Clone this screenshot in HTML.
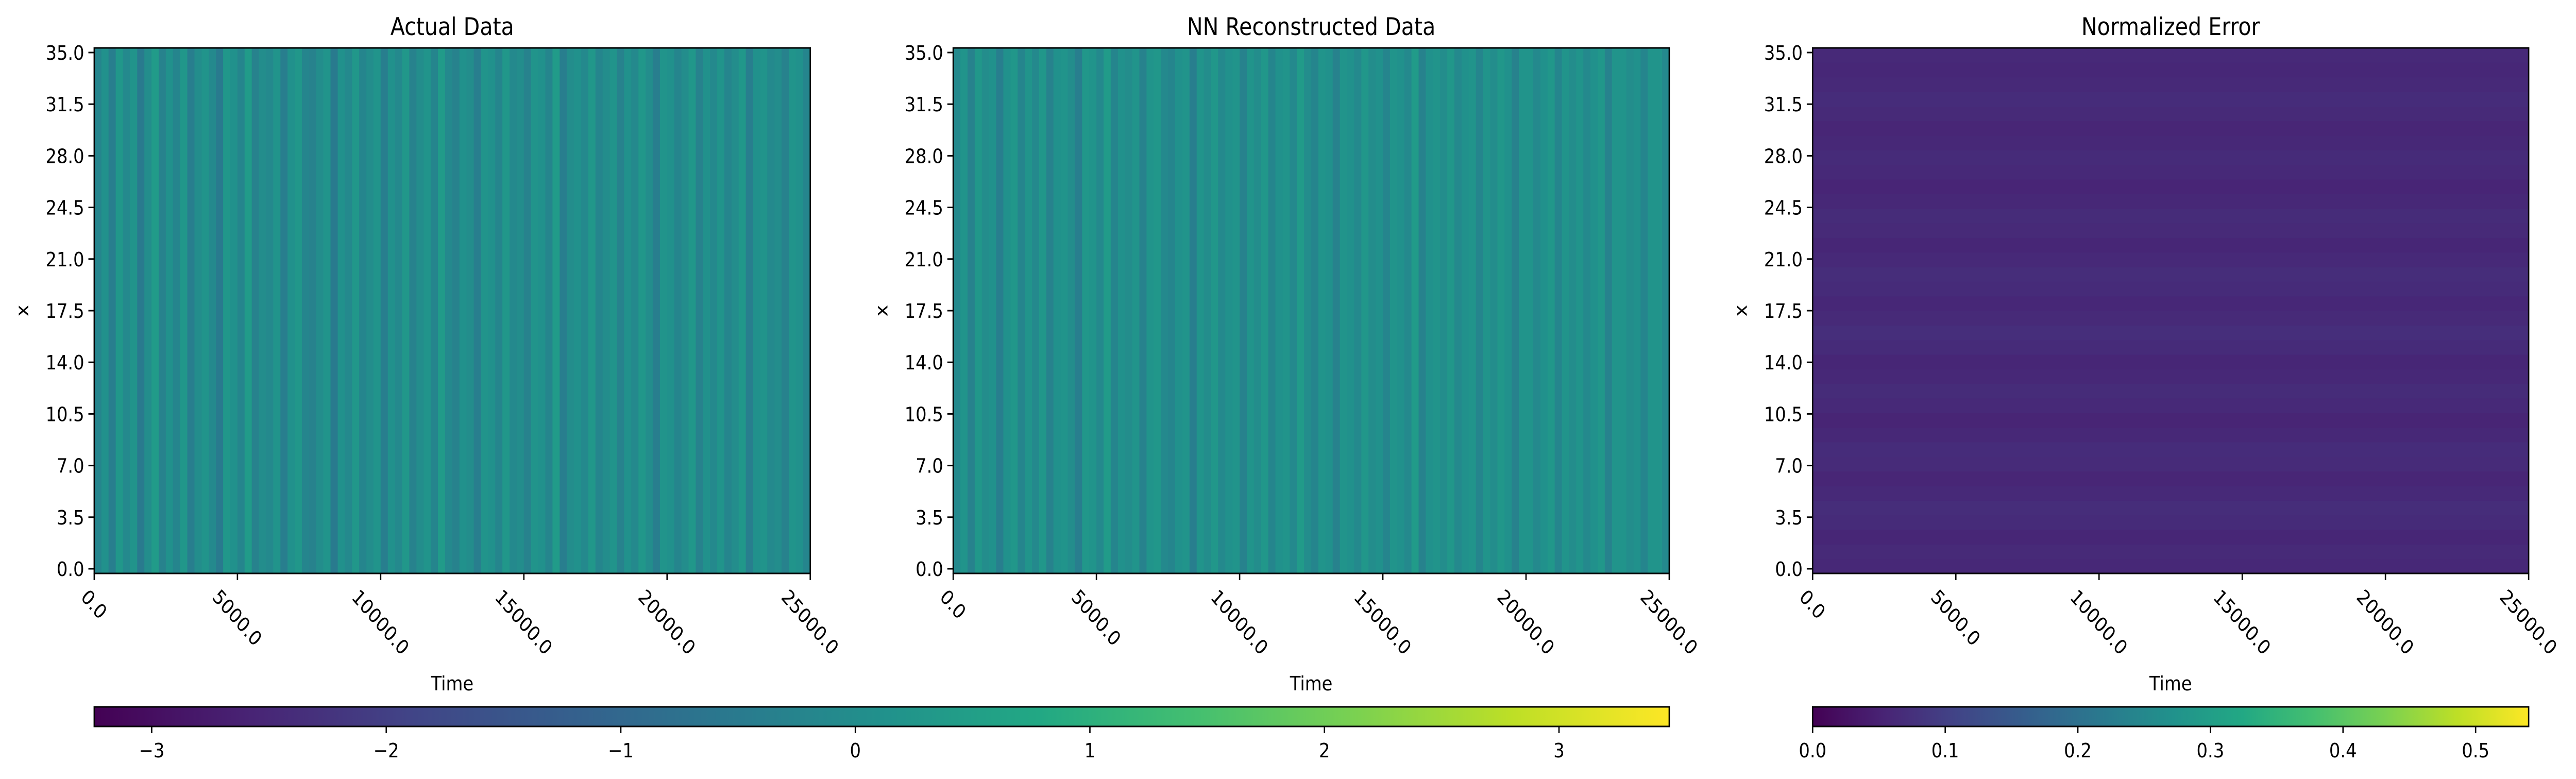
<!DOCTYPE html>
<html><head><meta charset="utf-8">
<style>
html,body{margin:0;padding:0;background:#fff;overflow:hidden;width:100%;height:100%;}
svg{display:block;font-family:"DejaVu Sans","Liberation Sans",sans-serif;width:100vw;height:100vh;}
</style></head>
<body>
<svg id="fig" xmlns="http://www.w3.org/2000/svg" viewBox="0 0 5713 1512" preserveAspectRatio="none"></svg>
<script>
// ---- data ----
const panelTitles = ["Actual Data", "NN Reconstructed Data", "Normalized Error"];
const xTicks = [0, 5000, 10000, 15000, 20000, 25000];
const xTickLabels = ["0.0", "5000.0", "10000.0", "15000.0", "20000.0", "25000.0"];
const yTicks = [0, 3.5, 7, 10.5, 14, 17.5, 21, 24.5, 28, 31.5, 35];
const yTickLabels = ["0.0", "3.5", "7.0", "10.5", "14.0", "17.5", "21.0", "24.5", "28.0", "31.5", "35.0"];
const cb1Ticks = [-3, -2, -1, 0, 1, 2, 3];
const cb1TickLabels = ["\u22123", "\u22122", "\u22121", "0", "1", "2", "3"];
const cb2Ticks = [0, 0.1, 0.2, 0.3, 0.4, 0.5];
const cb2TickLabels = ["0.0", "0.1", "0.2", "0.3", "0.4", "0.5"];
const cb1Range = [-3.245, 3.47];
const cb2Range = [0, 0.54];
// column-averaged field values (time direction), estimated
const actualCols = [-0.2,0.1,-0.4,0.3,-0.1,0.2,-0.5,0.0,0.4,-0.3,0.1,-0.2,0.3,-0.4,0.0,0.2,-0.1,-0.5,0.3,0.1,
 -0.2,0.4,-0.3,0.0,-0.1,0.2,-0.4,0.1,0.3,-0.2,-0.3,0.0,0.2,-0.5,0.1,-0.1,0.3,-0.2,0.0,0.2,
 -0.4,0.1,-0.1,0.3,-0.3,0.0,0.2,-0.2,0.4,-0.1,-0.3,0.1,0.0,-0.4,0.2,0.1,-0.2,0.3,-0.1,0.0,
 -0.3,0.2,0.1,-0.2,0.4,-0.4,0.0,0.1,-0.1,0.3,-0.2,0.0,0.2,-0.3,0.1,-0.1,0.3,0.0,-0.4,0.2,
 0.1,-0.2,0.0,0.3,-0.3,0.1,-0.1,0.2,-0.2,0.0,0.3,-0.4,0.1,0.2,-0.1,0.0,-0.3,0.2,0.1,-0.2];
const reconCols = [-0.1,0.2,-0.3,0.3,0.0,0.1,-0.4,0.1,0.3,-0.2,0.2,-0.1,0.3,-0.3,0.1,0.2,0.0,-0.4,0.3,0.2,
 -0.1,0.4,-0.2,0.1,0.0,0.2,-0.3,0.2,0.3,-0.1,-0.2,0.1,0.2,-0.4,0.2,0.0,0.3,-0.1,0.1,0.2,
 -0.3,0.2,0.0,0.3,-0.2,0.1,0.2,-0.1,0.4,0.0,-0.2,0.2,0.1,-0.3,0.2,0.1,-0.1,0.3,0.0,0.1,
 -0.2,0.2,0.1,-0.1,0.4,-0.3,0.1,0.2,0.0,0.3,-0.1,0.1,0.2,-0.2,0.2,0.0,0.3,0.1,-0.3,0.2,
 0.2,-0.1,0.1,0.3,-0.2,0.2,0.0,0.2,-0.1,0.1,0.3,-0.3,0.2,0.2,0.0,0.1,-0.2,0.2,0.2,-0.1];
// error by spatial row (x direction), estimated
const errorRows = [0.060,0.064,0.058,0.066,0.070,0.062,0.057,0.065,0.068,0.060,0.055,0.063,0.067,0.061,0.058,0.066,
 0.071,0.064,0.059,0.066,0.069,0.062,0.058,0.064,0.067,0.060,0.056,0.063,0.066,0.061,0.057,0.064,0.068,0.062,0.059,0.063];

// ---- viridis ----
const V = [[68,1,84],[72,36,117],[65,68,135],[53,95,141],[42,120,142],[33,145,140],[34,168,132],[68,191,112],[122,209,81],[189,223,38],[253,231,37]];
function viridis(t){t=Math.max(0,Math.min(1,t));const p=t*10,i=Math.min(9,Math.floor(p)),f=p-i;
 const c=V[i].map((a,k)=>Math.round(a+(V[i+1][k]-a)*f));return `rgb(${c[0]},${c[1]},${c[2]})`;}

const NS="http://www.w3.org/2000/svg";
const svg=document.getElementById('fig');
function el(tag,attrs,parent){const e=document.createElementNS(NS,tag);for(const k in attrs)e.setAttribute(k,attrs[k]);(parent||svg).appendChild(e);return e;}

const PX=[209,2114,4020], PW=1588, TOP=93, BOT=1113;
const FS=38.6;
function yScale(v){return 1104 - v*28.63;}
function xScale(p,t){return PX[p] + t/25000*PW;}

const defs=el('defs',{});
const grad=el('linearGradient',{id:'vir',x1:'0',x2:'1',y1:'0',y2:'0'},defs);
for(let i=0;i<=20;i++){el('stop',{offset:(i/20),'stop-color':viridis(i/20)},grad);}

for(let p=0;p<3;p++){
 const g=el('g',{});
 
 
 const hm=el('g',{},g);
 
 
 if(p<2){
  const cols=p===0?actualCols:reconCols;
  const w=PW/cols.length;
  cols.forEach((v,i)=>{
   const r=el('rect',{x:PX[p]+i*w,y:TOP,width:w+0.6,height:BOT-TOP,fill:viridis((v-cb1Range[0])/(cb1Range[1]-cb1Range[0]))},hm);
   
   
  });
 } else {
  const h=(BOT-TOP)/errorRows.length;
  errorRows.forEach((v,i)=>{
   const r=el('rect',{x:PX[p],y:BOT-(i+1)*h,width:PW,height:h+0.6,fill:viridis((v-cb2Range[0])/(cb2Range[1]-cb2Range[0]))},hm);
   
   
  });
 }
 const fr=el('rect',{x:PX[p],y:TOP,width:PW,height:BOT-TOP,fill:'none',stroke:'#000','stroke-width':3},g);
 
 
 const tt=el('text',{x:PX[p]+PW/2,y:68,'text-anchor':'middle','font-size':47},g);
 tt.textContent=panelTitles[p];
 
 
 yTicks.forEach((v,i)=>{
  const y=yScale(v);
  el('line',{x1:PX[p]-13,x2:PX[p],y1:y,y2:y,stroke:'#000','stroke-width':3},g);
  const t=el('text',{x:PX[p]-22,y:y+14,'text-anchor':'end','font-size':FS},g);
  t.textContent=yTickLabels[i];
  
  
 });
 xTicks.forEach((v,i)=>{
  const x=xScale(p,v);
  el('line',{x1:x,x2:x,y1:BOT,y2:BOT+13,stroke:'#000','stroke-width':3},g);
  const lbl=xTickLabels[i];
  const w=(lbl.length-1)*0.636*FS+0.318*FS, hh=45;
  const cy=BOT+22+(w+hh)*0.707/2;
  const t=el('text',{x:x,y:cy+14,'text-anchor':'middle','font-size':FS,transform:`rotate(45 ${x} ${cy})`},g);
  t.textContent=lbl;
  
  
 });
 const xl=el('text',{x:PX[p]+PW/2,y:1340,'text-anchor':'middle','font-size':FS},g);
 xl.textContent='Time';
 
 
 const yx=PX[p]-158, yy=603;
 const yl=el('text',{x:yx,y:yy+12,'text-anchor':'middle','font-size':FS,transform:`rotate(-90 ${yx} ${yy})`},g);
 yl.textContent='x';
 
 
}

function colorbar(x0,x1,range,ticks,labels,name){
 const g=el('g',{});
 
 
 el('rect',{x:x0,y:1372,width:x1-x0,height:38,fill:'url(#vir)',stroke:'#000','stroke-width':3},g);
 ticks.forEach((v,i)=>{
  const x=x0+(v-range[0])/(range[1]-range[0])*(x1-x0);
  el('line',{x1:x,x2:x,y1:1410,y2:1423,stroke:'#000','stroke-width':3},g);
  const t=el('text',{x:x,y:1470,'text-anchor':'middle','font-size':FS},g);
  t.textContent=labels[i];
  
  
 });
}
colorbar(209,3702,cb1Range,cb1Ticks,cb1TickLabels,'colorbar-data');
colorbar(4020,5608,cb2Range,cb2Ticks,cb2TickLabels,'colorbar-error');
</script>
</body></html>
